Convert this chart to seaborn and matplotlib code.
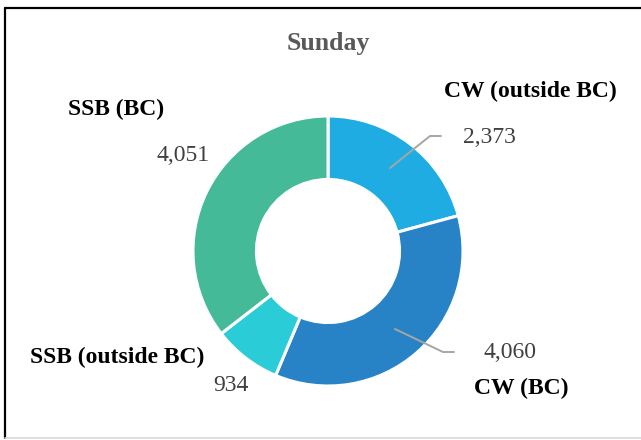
import matplotlib
matplotlib.use("Agg")
import matplotlib.pyplot as plt
import seaborn as sns

# 数据
categories = ["CW (outside BC)", "CW (BC)", "SSB (outside BC)", "SSB (BC)"]
values = [2373, 4060, 934, 4051]
colors = ["#1FACE2", "#2883C6", "#29CCD7", "#44BA98"]
title = "Sunday"

sns.set_theme(style="white")
plt.rcParams["font.family"] = ["Liberation Serif", "DejaVu Serif"]

W, H = 641, 440
fig = plt.figure(figsize=(W / 100, H / 100), dpi=100)
ax = fig.add_axes([0, 0, 1, 1])
ax.set_xlim(0, W)
ax.set_ylim(0, H)
ax.set_aspect("equal")
ax.axis("off")

# 环形图
cx, cy, r = 328, H - 251, 135
wedges, _ = ax.pie(
    values,
    colors=colors,
    startangle=90,
    counterclock=False,
    center=(cx, cy),
    radius=r,
    wedgeprops=dict(width=r * 0.47, edgecolor="white", linewidth=2.2),
    frame=True,
)
ax.set_xlim(0, W)
ax.set_ylim(0, H)
ax.axis("off")

# 外框
ax.plot([5, 5], [H - 7.5, H - 438], color="black", lw=1.6, clip_on=False)
ax.plot([5, W], [H - 7.5, H - 7.5], color="black", lw=1.6, clip_on=False)
ax.plot([5, W], [H - 438, H - 438], color="#d9d9d9", lw=1.2, clip_on=False)

ax.text(328, H - 43, title, ha="center", va="center", fontsize=18.5,
        fontweight="bold", color="#595959")

# 标签位置 (类别名, 数值)
name_pos = [(530, 91), (521, 388), (117, 357), (116, 109)]
num_pos = [(489, 137), (510, 353), (231, 385), (183, 155)]
for name, v, (nx, ny), (vx, vy) in zip(categories, values, name_pos, num_pos):
    ax.text(nx, H - ny, name, ha="center", va="center", fontsize=17,
            fontweight="bold", color="black")
    ax.text(vx, H - vy, f"{v:,}", ha="center", va="center", fontsize=17,
            color="#404040")

# 引导线
ax.plot([390, 430, 441], [H - 168, H - 136, H - 136], color="#a6a6a6", lw=1.4)
ax.plot([395, 443, 454], [H - 329, H - 352, H - 352], color="#a6a6a6", lw=1.4)

fig.savefig("out.png", dpi=100, facecolor="white")
